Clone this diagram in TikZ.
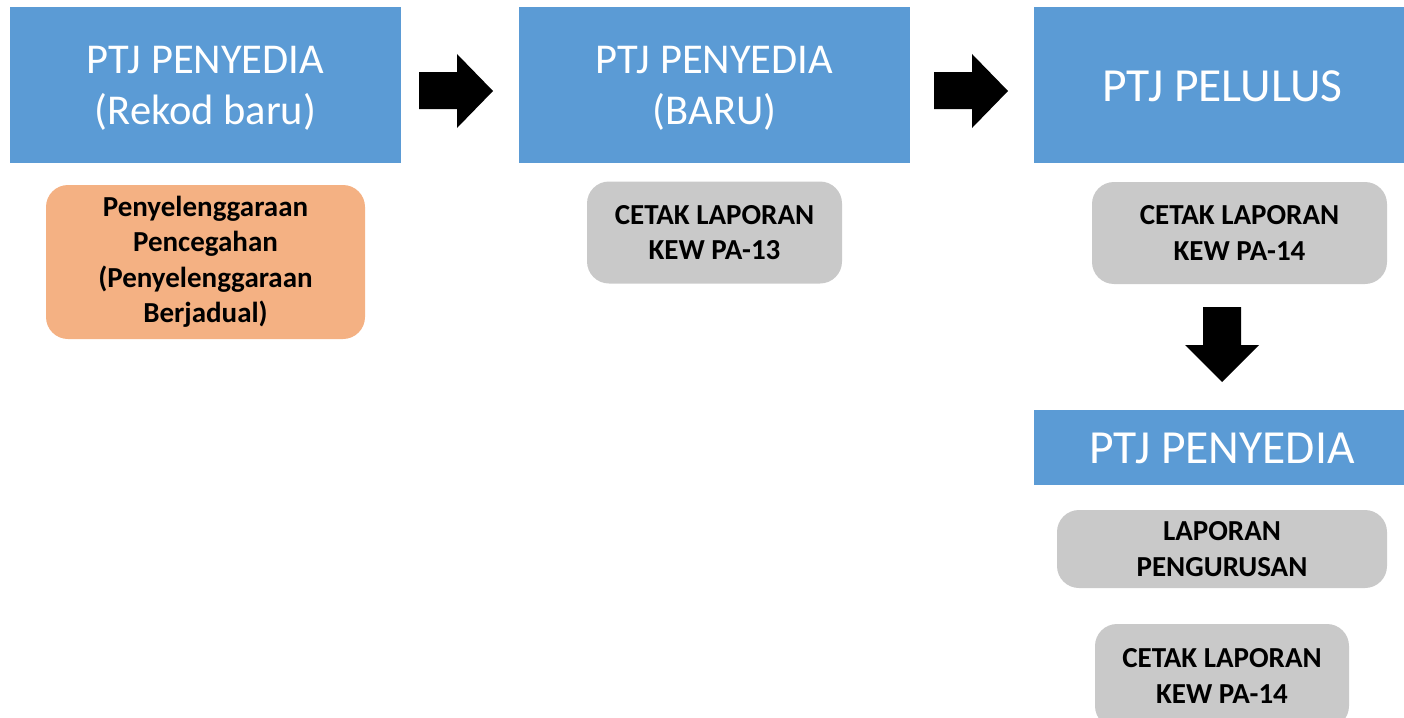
\documentclass[tikz,border=0pt]{standalone}
\usepackage{fontspec}
\setmainfont{Carlito}
\definecolor{hdrblue}{HTML}{5B9BD5}
\definecolor{boxorange}{HTML}{F4B183}
\definecolor{boxgray}{HTML}{C9C9C9}
\begin{document}
\begin{tikzpicture}[x=1pt,y=-1pt,
  hdr/.style={fill=hdrblue,inner sep=0pt},
  hdrtext/.style={text=white,align=center,inner sep=0pt,
    font=\fontsize{42.5}{51}\selectfont},
  hdrbigtext/.style={hdrtext,font=\fontsize{47.5}{56}\selectfont},
  note/.style={rounded corners=22pt,align=center,inner sep=0pt,
    font=\fontsize{29}{35.5}\selectfont\bfseries},
  orangebox/.style={note,fill=boxorange},
  graybox/.style={note,fill=boxgray},
  blockarrow/.style={fill=black}]
\useasboundingbox (0,0) rectangle (1404,717);
\clip (0,0) rectangle (1404,717);

\node[hdr,minimum width=391pt,minimum height=155pt] (h1) at (205.5,85) {};
\node[hdr,minimum width=391pt,minimum height=155pt] (h2) at (714.5,85) {};
\node[hdr,minimum width=370pt,minimum height=155pt] (h3) at (1219,85) {};
\node[hdr,minimum width=370pt,minimum height=75pt] (h4) at (1219,447.5) {};
\node[hdrtext] (t1) at ([yshift=-3pt]h1.center) {PTJ PENYEDIA\\(Rekod baru)};
\node[hdrtext] (t2) at ([yshift=-3pt]h2.center) {PTJ PENYEDIA\\(BARU)};
\node[hdrbigtext] (t3) at ([xshift=3.5pt,yshift=-1pt]h3.center) {PTJ PELULUS};
\node[hdrbigtext] (t4) at ([xshift=3pt,yshift=-1pt]h4.center) {PTJ PENYEDIA};

\node[orangebox,minimum width=319pt,minimum height=154pt] (o1) at (205.5,262) {Penyelenggaraan\\Pencegahan\\(Penyelenggaraan\\Berjadual)};
\node[graybox,minimum width=255pt,minimum height=102pt] (g1) at (714.5,232.5) {CETAK LAPORAN\\KEW PA-13};
\node[graybox,minimum width=295pt,minimum height=102pt] (g2) at (1239.5,233) {CETAK LAPORAN\\KEW PA-14};
\node[graybox,minimum width=330pt,minimum height=78pt] (g3) at (1222,549) {LAPORAN\\PENGURUSAN};
\node[graybox,minimum width=254pt,minimum height=104pt] (g4) at (1222,676) {CETAK LAPORAN\\KEW PA-14};

% block arrows
\fill[blockarrow] (419,72) -- (457,72) -- (457,54) -- (493,91) -- (457,128) -- (457,109) -- (419,109) -- cycle;
\fill[blockarrow] (934,72) -- (972,72) -- (972,54) -- (1008,91) -- (972,128) -- (972,109) -- (934,109) -- cycle;
\fill[blockarrow] (1203,307) -- (1241,307) -- (1241,345) -- (1259,345) -- (1222,382) -- (1185,345) -- (1203,345) -- cycle;
\end{tikzpicture}
\end{document}
